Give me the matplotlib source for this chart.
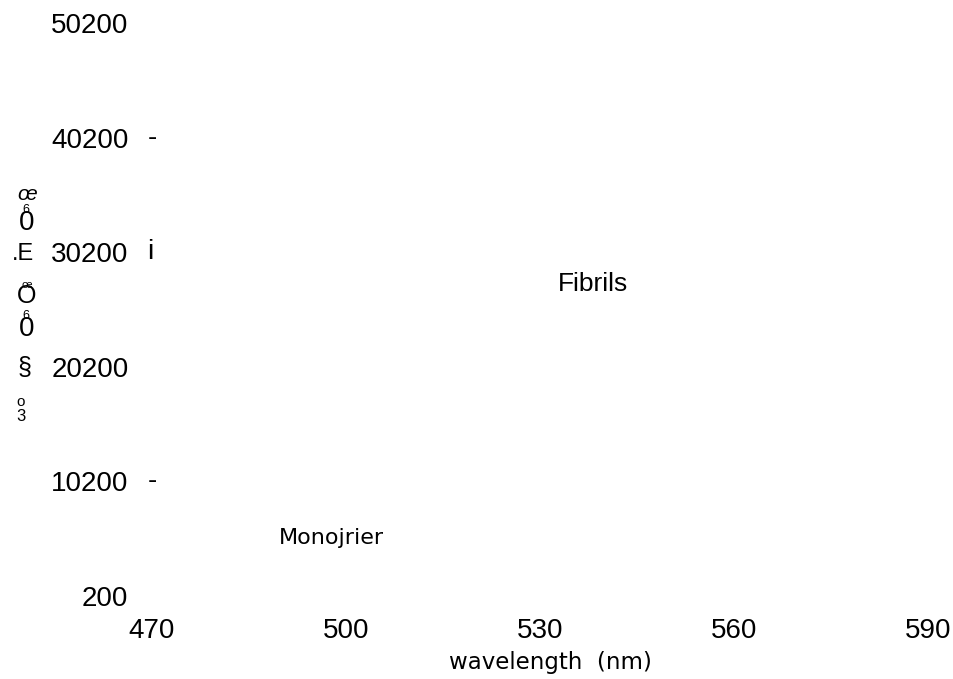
import matplotlib
matplotlib.use("Agg")
import matplotlib.pyplot as plt

plt.rcParams["font.family"] = ["Liberation Sans", "DejaVu Sans"]

# Axis ticks
x_ticks = [470, 500, 530, 560, 590]
y_ticks = [200, 10200, 20200, 30200, 40200, 50200]
# marks printed just right of some y tick labels
y_marks = {40200: "-", 30200: "i", 10200: "-"}

# annotated curve labels (x in nm, y in counts)
labels = ["Fibrils", "Monojrier"]
label_x = [538.2, 497.8]
label_y = [27400, 5250]

W, H = 954, 679
fig = plt.figure(figsize=(W / 100, H / 100), dpi=100)
ax = fig.add_axes([152 / W, 1 - 596 / H, (928 - 152) / W, (596 - 23) / H])
ax.set_xlim(x_ticks[0], x_ticks[-1])
ax.set_ylim(y_ticks[0], y_ticks[-1])
for s in ax.spines.values():
    s.set_visible(False)

ax.set_xticks(x_ticks)
ax.set_xticklabels([str(v) for v in x_ticks], fontsize=20)
ax.set_yticks(y_ticks)
ax.set_yticklabels([str(v) for v in y_ticks], fontsize=20)
ax.tick_params(axis="x", length=0, pad=16)
ax.tick_params(axis="y", length=0, pad=17)

for yv, m in y_marks.items():
    ax.text(-0.006, yv, m, transform=ax.get_yaxis_transform(),
            ha="left", va="center", fontsize=20)

ax.text(label_x[0], label_y[0], labels[0], ha="center", va="center",
        fontsize=19)
ax.text(label_x[1], label_y[1], labels[1], ha="center", va="center",
        fontsize=16, family="DejaVu Sans")

# x-axis title
fig.text(550 / W, 1 - 662 / H, "wavelength  (nm)", ha="center",
         va="center", fontsize=16.5, family="DejaVu Sans")

# scattered glyphs of the y-axis title
glyphs = [
    ("œ", 27, 194, 15, "italic"),
    ("0", 27, 223, 20, "normal"),
    ("6", 26, 210, 9, "normal"),
    (".E", 23, 254, 17, "normal"),
    ("O", 27, 296, 18, "normal"),
    ("œ", 27, 285, 8, "normal"),
    ("0", 27, 329, 20, "normal"),
    ("6", 26, 316, 9, "normal"),
    ("§", 25, 368, 18, "normal"),
    ("o", 21, 402, 11, "normal"),
    ("3", 21, 416, 12, "normal"),
]
for g, gx, gy, fs, st in glyphs:
    fig.text(gx / W, 1 - gy / H, g, ha="center", va="center",
             fontsize=fs, style=st)

fig.savefig("out.png", dpi=100)
